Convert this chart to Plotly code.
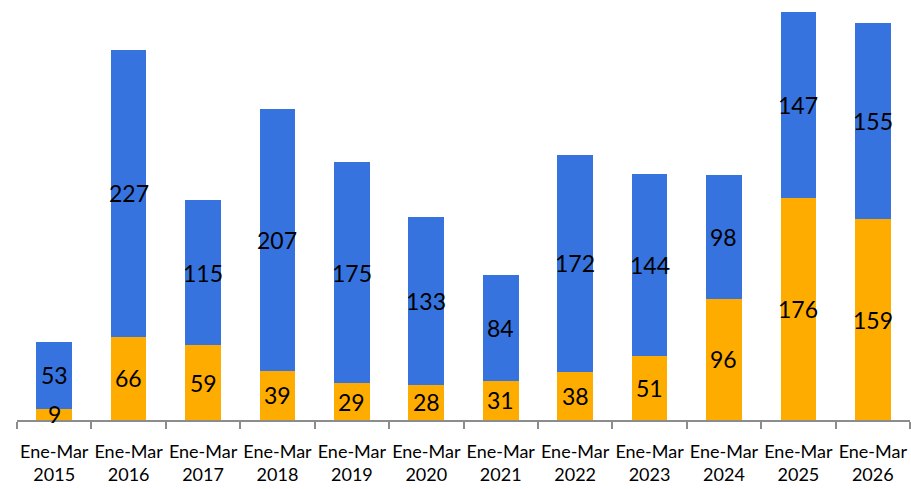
import plotly.graph_objects as go

# Quarterly (January–March) figures by year
periods = ["Ene-Mar<br>2015", "Ene-Mar<br>2016", "Ene-Mar<br>2017", "Ene-Mar<br>2018",
           "Ene-Mar<br>2019", "Ene-Mar<br>2020", "Ene-Mar<br>2021", "Ene-Mar<br>2022",
           "Ene-Mar<br>2023", "Ene-Mar<br>2024", "Ene-Mar<br>2025", "Ene-Mar<br>2026"]
lower_values = [9, 66, 59, 39, 29, 28, 31, 38, 51, 96, 176, 159]
upper_values = [53, 227, 115, 207, 175, 133, 84, 172, 144, 98, 147, 155]

ORANGE = "#FFAC00"
BLUE = "#3673DF"
FONT = "Lato, sans-serif"

fig = go.Figure()
fig.add_trace(go.Bar(x=periods, y=lower_values, marker=dict(color=ORANGE, line_width=0),
                     width=0.48, hoverinfo="skip"))
fig.add_trace(go.Bar(x=periods, y=upper_values, marker=dict(color=BLUE, line_width=0),
                     width=0.48, hoverinfo="skip"))

# Value labels centred on each stacked segment
annotations = []
for p, lo, up in zip(periods, lower_values, upper_values):
    annotations.append(dict(x=p, y=lo / 2, text=str(lo), showarrow=False,
                            font=dict(family=FONT, size=23, color="black")))
    annotations.append(dict(x=p, y=lo + up / 2, text=str(up), showarrow=False,
                            font=dict(family=FONT, size=23, color="black")))

fig.update_layout(
    barmode="stack",
    width=911, height=489,
    margin=dict(l=17, r=1, t=0, b=69),
    paper_bgcolor="white", plot_bgcolor="white",
    showlegend=False,
    annotations=annotations,
    xaxis=dict(
        type="category", tickson="boundaries", ticks="outside", ticklen=7,
        tickcolor="#8C8C8C", tickwidth=2, tickangle=0, automargin=False,
        ticklabelstandoff=14,
        showline=True, linecolor="#8C8C8C", linewidth=2,
        showgrid=False, zeroline=False,
        tickfont=dict(family=FONT, size=18, color="black"),
    ),
    yaxis=dict(range=[0, 332.5], visible=False, showgrid=False, zeroline=False),
)

fig.write_html("out.html")
